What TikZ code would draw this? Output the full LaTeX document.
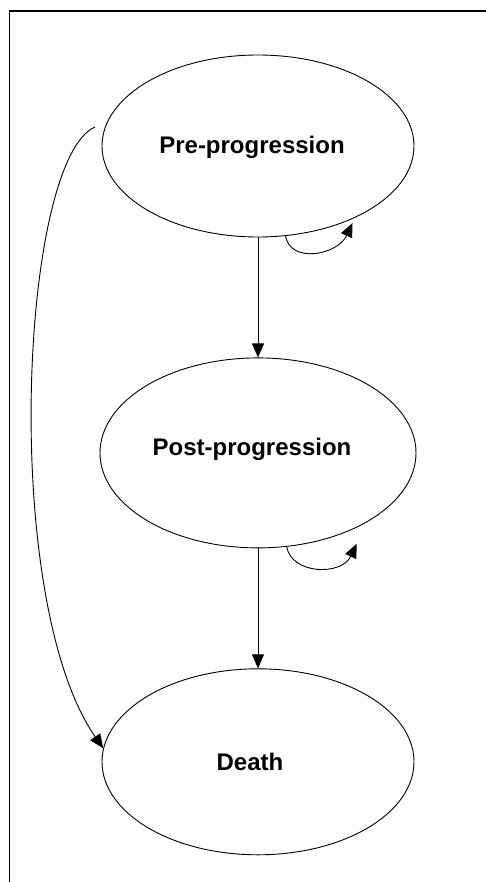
\documentclass[tikz,border=0pt]{standalone}
\usepackage{fontspec}
\setmainfont{Liberation Sans}
\usetikzlibrary{
  arrows.meta,
  positioning,
  shapes.geometric,
  calc}
\tikzset{state/.style={ellipse, draw, line width=0.9pt, inner sep=0pt,
                       minimum width=312pt, minimum height=186pt},
         caption/.style={font=\fontsize{24}{28}\selectfont\bfseries},
         flow/.style={->, line width=0.9pt}
        }

\begin{document}
\begin{tikzpicture}[x=1pt, y=1pt, >={Triangle[length=14pt,width=12pt]}]
    \useasboundingbox (0,0) rectangle (486,-882);
    \draw[line width=1.6pt] (486,-11) -- (9.5,-11) -- (9.5,-882);

    \node[state, minimum height=182pt] at (258,-146) (pre){};
        \node[state, below = 120pt of pre, minimum width=316pt, minimum height=190pt](post){};
                \node[state, below = 120pt of post](death){};

    \node[caption] at ($(pre.center)+(-6,-1)$) (preText){Pre-progression};
        \node[caption] at ($(post.center)+(-6,4)$) (postText){Post-progression};
                \node[caption] at ($(death.center)+(-8,0)$) (deathText){Death};

    \coordinate (start) at (95,-127);

    
    \draw[flow] (pre) -- (post);
        \draw[flow] (post) -- (death);

    
    \draw[flow] (pre.-73) .. controls +(5,-28) and +(-15,-32) .. ++(67,13);
        \draw[flow] (post.-73) .. controls +(5,-28) and +(-15,-32) .. ++(70,3);

    
    \draw[flow] (start) .. controls (20,-160) and (0,-600) .. (death.175);

    \end{tikzpicture}
\end{document}
